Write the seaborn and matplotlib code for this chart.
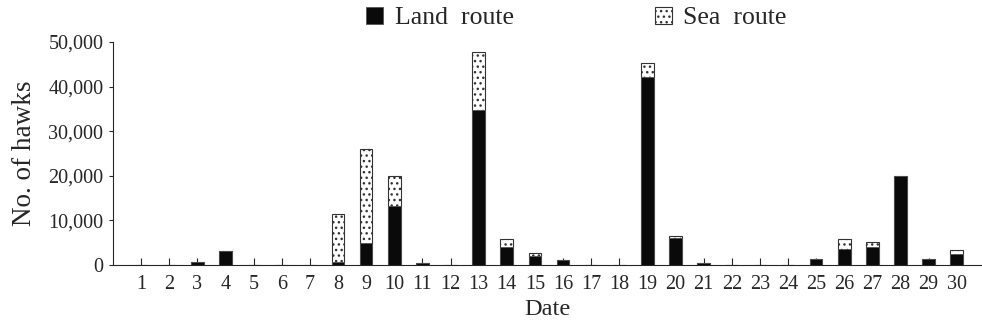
import numpy as np
import pandas as pd
import seaborn as sns
import matplotlib.pyplot as plt

# Datos (número de halcones por día)
fechas = [str(d) for d in range(1, 31)]
ruta_tierra = [0, 0, 600, 3200, 0, 0, 0, 600, 5000, 13200,
               400, 0, 34700, 4000, 1950, 1200, 0, 0, 42100, 6100,
               400, 0, 0, 0, 1350, 3500, 4100, 20000, 1350, 2550]
ruta_mar = [0, 0, 0, 0, 0, 0, 0, 10800, 20900, 6800,
            0, 0, 13100, 1900, 650, 0, 0, 0, 3300, 300,
            0, 0, 0, 0, 0, 2400, 1050, 0, 0, 750]

df = pd.DataFrame({'Date': fechas,
                   'Land': ruta_tierra,
                   'Sea': ruta_mar})
df['Total'] = df['Land'] + df['Sea']

sns.set_style('ticks')
plt.rcParams['font.family'] = ['Liberation Serif', 'DejaVu Serif']
plt.rcParams['hatch.linewidth'] = 1.0

fig = plt.figure(figsize=(9.82, 3.28), dpi=100)
ax = fig.add_axes([0.1151, 0.192, 0.885, 0.68])

# Barra total (ruta marítima punteada) y encima la parte terrestre en negro
sns.barplot(data=df, x='Date', y='Total', order=fechas, color='white',
            edgecolor='#333333', linewidth=0.8, hatch='...', width=0.45,
            ax=ax, label='Sea  route')
sns.barplot(data=df, x='Date', y='Land', order=fechas, color='#0a0a0a',
            edgecolor='#555555', linewidth=0.6, width=0.45, saturation=1,
            ax=ax, label='Land  route')

ax.set_ylim(0, 50000)
ax.set_xlim(-1.0, 29.9)
ax.set_yticks(np.arange(0, 50001, 10000))
ax.set_yticklabels([f'{v:,}' for v in range(0, 50001, 10000)], fontsize=14.5)
ax.set_xticklabels(fechas, fontsize=14.5)
ax.tick_params(axis='x', direction='in', length=5, width=0.8, pad=7)
ax.tick_params(axis='y', direction='out', length=3, width=0.8, pad=4)
ax.set_xlabel('Date', fontsize=17.5, labelpad=4)
ax.set_ylabel('No. of hawks', fontsize=19.5, labelpad=8)
sns.despine(ax=ax)
for s in ['left', 'bottom']:
    ax.spines[s].set_linewidth(0.8)

h, l = ax.get_legend_handles_labels()
if ax.legend_:
    ax.legend_.remove()
fig.legend([h[1], h[0]], [l[1], l[0]], loc='center', ncol=2,
           bbox_to_anchor=(0.587, 0.945), frameon=False, fontsize=18.5,
           handlelength=0.65, handleheight=0.65, handletextpad=0.45,
           columnspacing=5.5)

fig.savefig('out.png', dpi=100)
